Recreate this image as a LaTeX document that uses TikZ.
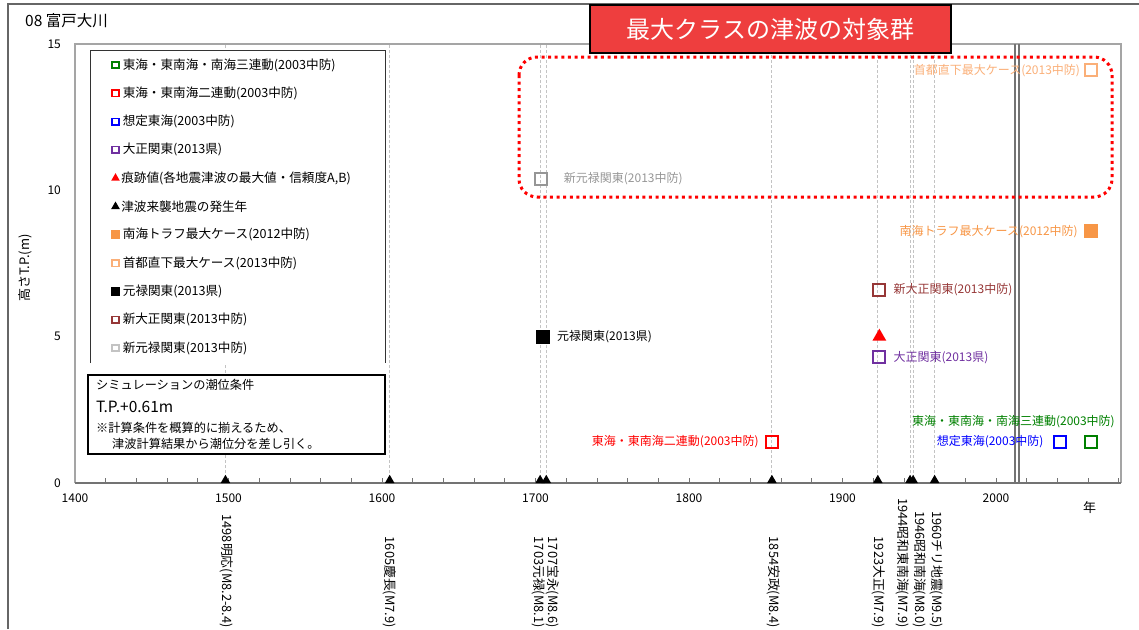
\documentclass[tikz,border=0pt]{standalone}
\usepackage{fontspec}
\setmainfont{Noto Sans CJK JP}
\usetikzlibrary{positioning,calc,shapes}

\definecolor{sgreen}{RGB}{0,128,0}
\definecolor{sred}{RGB}{255,0,0}
\definecolor{sblue}{RGB}{0,0,255}
\definecolor{spurple}{RGB}{112,48,160}
\definecolor{sorange}{RGB}{247,150,70}
\definecolor{slorange}{RGB}{250,175,120}
\definecolor{sbrown}{RGB}{150,55,55}
\definecolor{sgray}{RGB}{150,150,150}
\definecolor{gridgray}{RGB}{195,195,195}
\definecolor{framegray}{RGB}{165,165,165}
\definecolor{titlered}{RGB}{238,62,62}

\tikzset{
  osq/.style={draw=#1, line width=2pt, minimum size=12pt, inner sep=0pt},
  fsq/.style={fill=#1, minimum size=14pt, inner sep=0pt},
  mtri/.style={regular polygon, regular polygon sides=3, fill=#1, minimum size=16pt, inner sep=0pt},
  axtri/.style={regular polygon, regular polygon sides=3, fill=black, minimum size=11pt, inner sep=0pt, outer sep=0pt, anchor=south},
  lgsq/.style={draw=#1, line width=1.6pt, minimum size=6.5pt, inner sep=0pt},
  lgfsq/.style={fill=#1, minimum size=9pt, inner sep=0pt},
  lgtri/.style={regular polygon, regular polygon sides=3, fill=#1, minimum size=10pt, inner sep=0pt},
  lgtxt/.style={inner sep=0pt, font=\fontsize{12.6}{12}\selectfont},
  lbl/.style={inner sep=0pt, font=\fontsize{12}{12}\selectfont},
  simtxt/.style={anchor=west, inner sep=0pt, font=\fontsize{12.2}{12}\selectfont},
  evlbl/.style={rotate=-90, anchor=east, inner sep=0pt, font=\fontsize{12.8}{12}\selectfont},
  ticklbl/.style={inner sep=0pt, font=\fontsize{12}{12}\selectfont},
  grid/.style={dashed, dash pattern=on 3pt off 2pt, draw=gridgray, line width=0.9pt},
  axisline/.style={draw=black!55, line width=1.2pt},
  maxbox/.style={draw=red, line width=3pt, dash pattern=on 3pt off 3.6pt, rounded corners=18pt},
  titlebox/.style={fill=titlered, draw=black, line width=1.8pt, text=white, minimum width=361pt, minimum height=48pt, font=\fontsize{24}{24}\selectfont}
}

\begin{document}
\begin{tikzpicture}[x=1pt,y=-1pt]
\useasboundingbox (0,0) rectangle (1139,629);

% sheet frame and name
\draw[draw=black!60, line width=1.2pt] (8,629) -- (8,4) -- (1139,4);
\node[anchor=west, inner sep=0pt, font=\fontsize{15.5}{15}\selectfont] (sheetname) at (25,21) {08 富戸大川};
\node[rotate=90, inner sep=0pt, font=\fontsize{13}{13}\selectfont] (ylabel) at (25,268) {高さT.P.(m)};

% plot frame
\draw[draw=framegray, line width=1.2pt] (75,483) -- (75,44) -- (1121,44) -- (1121,483);

\begin{scope}[shift={(-2074,483)}, x=1.535pt, y=29.27pt]
  % event lines
  \foreach \yr in {1498,1605,1703,1707,1854,1923,1944,1946,1960}
    \draw[grid] (\yr,0) -- (\yr,15);
  % present
  \draw[draw=black!55, line width=1.2pt] (2012.4,0) -- (2012.4,15) (2015,0) -- (2015,15);

  % year axis
  \draw[axisline] (1400,0) -- (2081.4,0);
  \foreach \yr in {1420,1440,...,2080}
    \draw[axisline, line width=0.8pt] (\yr,0) -- (\yr,0.17);
  \foreach \yr in {1400,1500,...,2000}
    \node[ticklbl] (xl\yr) at (\yr,-0.52) {\yr};
  \node[inner sep=0pt, font=\fontsize{13}{13}\selectfont] (xunit) at (2061,-0.85) {年};
  \foreach \h in {0,5,10,15}
    \node[ticklbl, anchor=east] (yl\h) at (1390.9,\h) {\h};

  % earthquakes
  \foreach \yr in {1498,1605,1703,1707,1854,1923,1944,1946,1960}
    \node[axtri] (ev\yr) at (\yr,0) {};
  \foreach \yr/\lx/\txt in {1498/1498.9/1498明応(M8.2-8.4), 1605/1605.2/1605慶長(M7.9),
      1703/1702.3/1703元禄(M8.1), 1707/1711.4/1707宝永(M8.6), 1854/1854.8/1854安政(M8.4),
      1923/1923.8/1923大正(M7.9), 1944/1939.4/1944昭和東南海(M7.9),
      1946/1950.5/1946昭和南海(M8.0), 1960/1961.5/1960チリ地震(M9.5)}
    \node[evlbl] (el\yr) at (\lx,-4.95) {\txt};

  % cases
  \node[osq=sgreen] (m3ren) at (2062,1.4) {};
  \node[osq=sblue] (mtokai) at (2041.5,1.4) {};
  \node[osq=sred] (m2ren) at (1854,1.4) {};
  \node[osq=spurple] (mtaisho) at (1924,4.3) {};
  \node[mtri=sred] (mkonseki) at (1924,5.0) {};
  \node[osq=sbrown] (mshintaisho) at (1924,6.6) {};
  \node[fsq=black] (mgenroku) at (1704.7,5.0) {};
  \node[osq=sgray] (mshingenroku) at (1703.4,10.4) {};
  \node[fsq=sorange] (mnankai) at (2062,8.6) {};
  \node[osq=slorange] (mshuto) at (2062,14.1) {};

  \node[lbl, text=slorange, left=4pt of mshuto] (tshuto) {首都直下最大ケース(2013中防)};
  \node[lbl, text=sgray, right=16pt of mshingenroku] (tshingenroku) {新元禄関東(2013中防)};
  \node[lbl, text=sorange, left=6pt of mnankai] (tnankai) {南海トラフ最大ケース(2012中防)};
  \node[lbl, text=sbrown, right=7pt of mshintaisho] (tshintaisho) {新大正関東(2013中防)};
  \node[lbl, text=black, right=7pt of mgenroku] (tgenroku) {元禄関東(2013県)};
  \node[lbl, text=spurple, right=7pt of mtaisho] (ttaisho) {大正関東(2013県)};
  \node[lbl, text=sred, left=6pt of m2ren] (t2ren) {東海・東南海二連動(2003中防)};
  \node[lbl, text=sblue, left=9pt of mtokai] (ttokai) {想定東海(2003中防)};
  \node[lbl, text=sgreen, anchor=east] (t3ren) at (2077.5,2.1) {東海・東南海・南海三連動(2003中防)};
\end{scope}

% legend
\fill[white] (90,50) rectangle (385,363);
\draw[draw=black!80, line width=1pt] (90,363) -- (90,50) -- (385,50) -- (385,363);
\node[lgsq=sgreen] (lg1) at (115.5,65) {};
\node[lgsq=sred] (lg2) at (115.5,93.3) {};
\node[lgsq=sblue] (lg3) at (115.5,121.6) {};
\node[lgsq=spurple] (lg4) at (115.5,149.9) {};
\node[lgtri=sred] (lg5) at (115.5,178.2) {};
\node[lgtri=black] (lg6) at (115.5,206.5) {};
\node[lgfsq=sorange] (lg7) at (115.5,234.8) {};
\node[lgsq=slorange] (lg8) at (115.5,263.1) {};
\node[lgfsq=black] (lg9) at (115.5,291.4) {};
\node[lgsq=sbrown] (lg10) at (115.5,319.7) {};
\node[lgsq=gridgray] (lg11) at (115.5,348) {};
\node[lgtxt, right=3pt of lg1] (lgt1) {東海・東南海・南海三連動(2003中防)};
\node[lgtxt, right=3pt of lg2] (lgt2) {東海・東南海二連動(2003中防)};
\node[lgtxt, right=3pt of lg3] (lgt3) {想定東海(2003中防)};
\node[lgtxt, right=3pt of lg4] (lgt4) {大正関東(2013県)};
\node[lgtxt, right=2.5pt of lg5] (lgt5) {痕跡値(各地震津波の最大値・信頼度A,B)};
\node[lgtxt, right=2.5pt of lg6] (lgt6) {津波来襲地震の発生年};
\node[lgtxt, right=2.5pt of lg7] (lgt7) {南海トラフ最大ケース(2012中防)};
\node[lgtxt, right=3pt of lg8] (lgt8) {首都直下最大ケース(2013中防)};
\node[lgtxt, right=2.5pt of lg9] (lgt9) {元禄関東(2013県)};
\node[lgtxt, right=3pt of lg10] (lgt10) {新大正関東(2013中防)};
\node[lgtxt, right=3pt of lg11] (lgt11) {新元禄関東(2013中防)};

% tide condition
\filldraw[fill=white, draw=black, line width=1.3pt] (88,375) rectangle (385,454);
\node[simtxt] (sim1) at (96,385) {シミュレーションの潮位条件};
\node[simtxt, font=\fontsize{15.5}{15}\selectfont] (sim2) at (96,407) {T.P.+0.61m};
\node[simtxt] (sim3) at (96,428) {※計算条件を概算的に揃えるため、};
\node[simtxt] (sim4) at (112,444) {津波計算結果から潮位分を差し引く。};

% maximum class group
\draw[maxbox] (519,57) rectangle (1112,197);
\node[titlebox] (maxtitle) at (770.5,29) {最大クラスの津波の対象群};
\end{tikzpicture}
\end{document}
